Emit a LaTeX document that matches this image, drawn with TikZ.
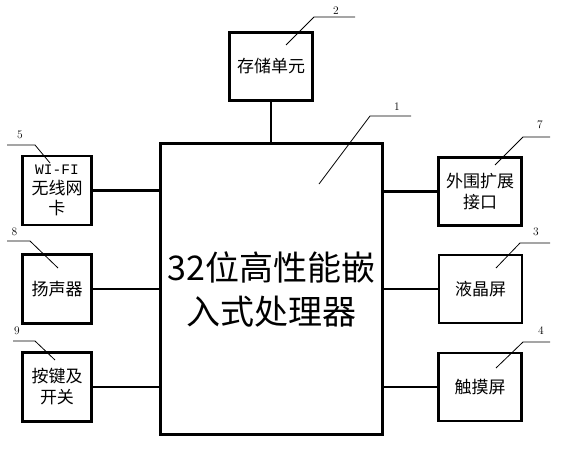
\documentclass[tikz,border=0pt]{standalone}
\usepackage{fontspec}
\setmonofont{Liberation Mono}
\newfontfamily\cjk{Noto Sans CJK SC}
\usetikzlibrary{positioning}

\begin{document}
\begin{tikzpicture}[x=1pt, y=-1pt,
    blk/.style={draw, line width=2.2pt, inner sep=0pt, align=center,
        font=\cjk\fontsize{17}{21}\selectfont},
    sidebox/.style={blk, minimum width=69pt, minimum height=69pt},
    widebox/.style={blk, minimum width=83pt, minimum height=68pt},
    link/.style={line width=2.2pt},
    lead/.style={line width=0.8pt},
    num/.style={font=\fontsize{11.5}{13}\selectfont, inner sep=0pt}]

\useasboundingbox (0,0) rectangle (566,450);

% ── central processor ──
\node[blk, minimum width=222pt, minimum height=291pt,
    font=\cjk\fontsize{34}{44}\selectfont] (cpu) at (271.5,289)
    {32位高性能嵌\\入式处理器};

% ── memory on top ──
\node[widebox] (mem) at (271,66.5) {存储单元};

% ── left column ──
\node[sidebox, font=\cjk\fontsize{17}{20}\selectfont] (wifi) at (57,190.5)
    {{\ttfamily\fontsize{14.5}{20}\selectfont WI-FI}\\无线网\\卡};
\node[sidebox] (spk)  at (57,289)   {扬声器};
\node[sidebox] (keys) at (57,387)   {按键及\\开关};

% ── right column ──
\node[widebox] (ext)   at (480,191.5) {外围扩展\\接口};
\node[widebox] (lcd)   at (480.5,289) {液晶屏};
\node[widebox] (touch) at (480,387)   {触摸屏};

% ── links to the processor ──
\draw[link] (mem.south) -- (mem.south |- cpu.north);
\foreach \m in {wifi,spk,keys}
    \draw[link] (\m.east) -- (\m.east -| cpu.west);
\foreach \m in {ext,lcd,touch}
    \draw[link] (\m.west) -- (\m.west -| cpu.east);

% ── reference leaders ──
\foreach \ax/\ay/\bx/\by/\cx/\cy in {
    319/184/370/116/411/116,   % 1
    286/45/314/17/355/17,      % 2
    7/145/35/145/50/163,       % 5
    7/241/30/241/58/268,       % 8
    13/341/35/341/55/360,      % 9
    495/165/523/137/550/137,   % 7
    496/268/520/243/550/243,   % 3
    496/368/523/342/550/342}   % 4
    \draw[lead] (\ax,\ay) -- (\bx,\by) -- (\cx,\cy);

\node[num] (n1) at (397,107)   {1};
\node[num] (n2) at (336,10.5)  {2};
\node[num] (n5) at (20,135)    {5};
\node[num] (n8) at (14.5,232)  {8};
\node[num] (n9) at (17,331)    {9};
\node[num] (n7) at (540,124.5) {7};
\node[num] (n3) at (536,232)   {3};
\node[num] (n4) at (541,331)   {4};

\end{tikzpicture}
\end{document}
